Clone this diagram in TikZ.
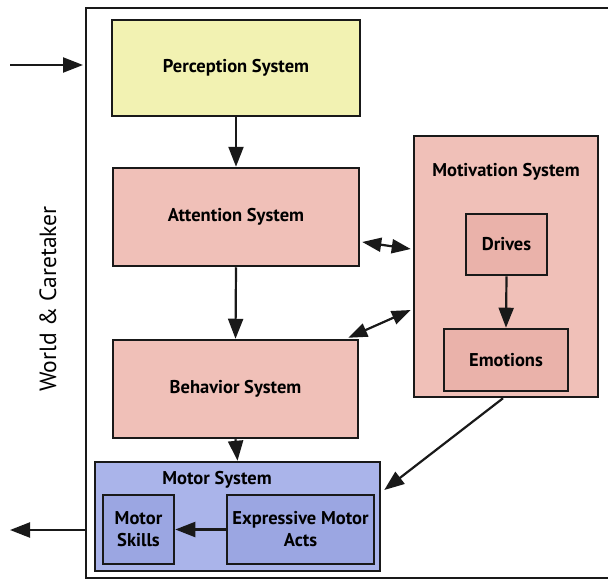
\documentclass[tikz,border=0pt]{standalone}
\usepackage{fontspec}
\setmainfont{PT Sans}
\usetikzlibrary{arrows.meta}
\definecolor{percfill}{RGB}{242,242,178}
\definecolor{pinkfill}{RGB}{240,192,184}
\definecolor{pinkinner}{RGB}{234,178,170}
\definecolor{motorfill}{RGB}{170,180,234}
\definecolor{motorinner}{RGB}{155,166,226}
\definecolor{edge}{RGB}{25,25,25}
\tikzset{
  boxfont/.style={font=\bfseries\fontsize{18.5}{22}\selectfont},
  box/.style={draw=edge, line width=2.5pt, inner sep=0pt, align=center, boxfont},
  inbox/.style={box, line width=2.6pt},
  link/.style={draw=edge, line width=2.2pt, -{Triangle[length=20pt,width=15pt]}},
  blink/.style={draw=edge, line width=2.2pt, {Triangle[length=19pt,width=14pt]}-{Triangle[length=19pt,width=14pt]}},
}
\begin{document}
\begin{tikzpicture}[x=1pt, y=-1pt]
\useasboundingbox (0,0) rectangle (608,581);
% outer frame (open to the right)
\draw[edge, line width=2.2pt] (612,8) -- (86,8) -- (86,578) -- (612,578);
\coordinate (fl) at (86,65);
\coordinate (fo) at (86,530);
\coordinate (inA) at (10,65);
\coordinate (outA) at (10,530);

\node[box, fill=percfill, minimum width=248pt, minimum height=96pt] (perc) at (236,68) {Perception System};
\node[box, fill=pinkfill, minimum width=246pt, minimum height=98pt] (att) at (236,217) {Attention System};
\node[box, fill=pinkfill, minimum width=245pt, minimum height=98pt] (beh) at (235.5,389) {Behavior System};

\node[box, fill=pinkfill, minimum width=184pt, minimum height=261pt] (mot) at (506,266.5) {};
\node[boxfont] (motl) at (506,172) {Motivation System};
\node[inbox, fill=pinkinner, minimum width=81pt, minimum height=61pt] (drv) at (506.5,244.5) {Drives};
\node[inbox, fill=pinkinner, minimum width=124pt, minimum height=62pt] (emo) at (506,360) {Emotions};

\node[box, fill=motorfill, minimum width=285pt, minimum height=109pt] (motor) at (237.5,516.5) {};
\node[boxfont] (motorl) at (217,480) {Motor System};
\node[inbox, fill=motorinner, minimum width=71pt, minimum height=69pt] (skill) at (138.5,529.5) {Motor\\Skills};
\node[inbox, fill=motorinner, minimum width=147pt, minimum height=69pt] (ema) at (300.5,529.5) {Expressive Motor\\Acts};

\node[rotate=90, font=\fontsize{23.5}{26}\selectfont] (world) at (48,299) {World \& Caretaker};

% connectors
\draw[link] (inA) -- ([xshift=-3pt]fl);
\draw[link] (fo) -- (outA);
\draw[link] (perc.south) -- (att.north);
\draw[link] (att.south) -- (beh.north);
\draw[link] (beh.south) -- (motor.north);
\draw[link] (drv.south) -- (emo.north);
\draw[link] (ema.west) -- (skill.west -| skill.east);
\draw[blink] ([xshift=2pt]att.east |- 0,242) -- ([xshift=-2pt]mot.west |- 0,249);
\draw[blink] ([xshift=-11pt,yshift=1pt]beh.north east) -- ([xshift=-2pt]mot.west |- 0,310);
\draw[link] (mot.south -| 503,0) -- ([xshift=3pt]motor.east |- 0,490);
\end{tikzpicture}
\end{document}
